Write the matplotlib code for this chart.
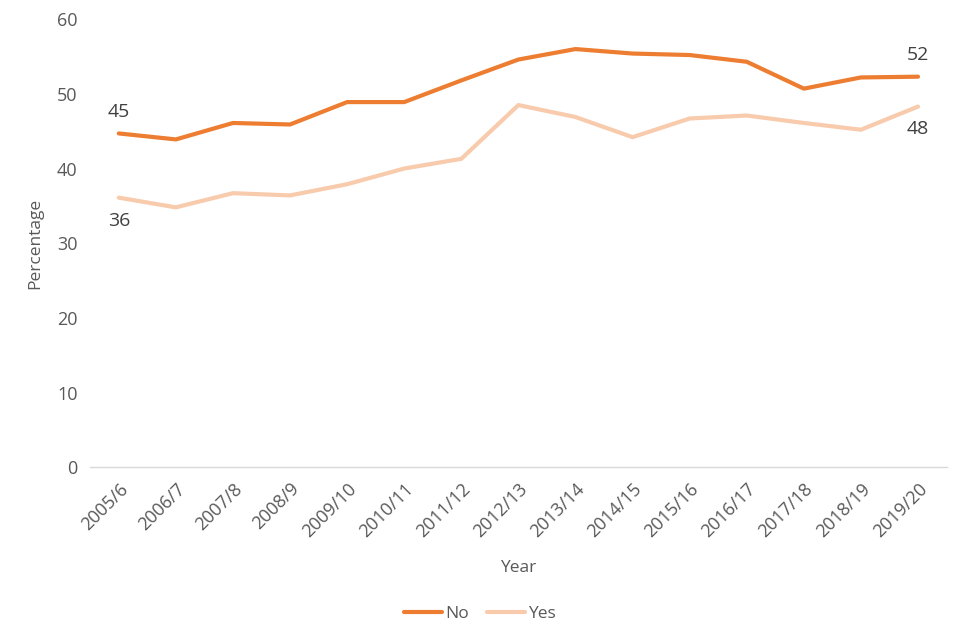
import matplotlib
matplotlib.use("Agg")
import matplotlib.pyplot as plt

plt.rcParams['font.family'] = ['Open Sans', 'DejaVu Sans']

years = ["2005/6", "2006/7", "2007/8", "2008/9", "2009/10", "2010/11", "2011/12",
         "2012/13", "2013/14", "2014/15", "2015/16", "2016/17", "2017/18", "2018/19", "2019/20"]
no_vals = [44.7, 43.9, 46.1, 45.9, 48.9, 48.9, 51.8, 54.6, 56.0, 55.4, 55.2, 54.3, 50.7, 52.2, 52.3]
yes_vals = [36.1, 34.8, 36.7, 36.4, 37.9, 40.0, 41.3, 48.5, 46.9, 44.2, 46.7, 47.1, 46.1, 45.2, 48.3]

c_no = "#ED7D31"
c_yes = "#F8CBAD"
txt = "#595959"

fig = plt.figure(figsize=(9.6, 6.4), dpi=100)
ax = fig.add_axes([0.094, 0.27, 0.892, 0.70])
x = list(range(len(years)))
ax.plot(x, no_vals, color=c_no, lw=3, label="No", solid_capstyle='round')
ax.plot(x, yes_vals, color=c_yes, lw=3, label="Yes", solid_capstyle='round')

ax.set_xlim(-0.5, len(years) - 0.5)
ax.set_ylim(0, 60)
ax.set_yticks(range(0, 61, 10))
ax.set_xticks(x)
ax.set_xticklabels(years, rotation=45, ha='right', rotation_mode='anchor')
ax.tick_params(axis='both', length=0, labelsize=13, colors=txt, pad=9)
for s in ['top', 'right', 'left']:
    ax.spines[s].set_visible(False)
ax.spines['bottom'].set_color('#D9D9D9')
ax.spines['bottom'].set_linewidth(1)

ax.set_xlabel("Year", fontsize=12.5, color=txt, labelpad=14)
ax.set_ylabel("Percentage", fontsize=12.5, color=txt, labelpad=10)

lab_kw = dict(fontsize=14, color="#404040", ha='center')
ax.annotate(f"{no_vals[0]:.0f}", (x[0], no_vals[0]), xytext=(0, 9), textcoords='offset points', va='bottom', **lab_kw)
ax.annotate(f"{yes_vals[0]:.0f}", (x[0], yes_vals[0]), xytext=(0, -10), textcoords='offset points', va='top', **lab_kw)
ax.annotate(f"{no_vals[-1]:.0f}", (x[-1], no_vals[-1]), xytext=(0, 9), textcoords='offset points', va='bottom', **lab_kw)
ax.annotate(f"{yes_vals[-1]:.0f}", (x[-1], yes_vals[-1]), xytext=(0, -10), textcoords='offset points', va='top', **lab_kw)

leg = fig.legend(loc='center', bbox_to_anchor=(0.5, 0.04), ncol=2, frameon=False,
                 fontsize=12.5, handlelength=2.2, columnspacing=1.0, handletextpad=0.2)
for t in leg.get_texts():
    t.set_color(txt)

fig.savefig("out.png", dpi=100)
